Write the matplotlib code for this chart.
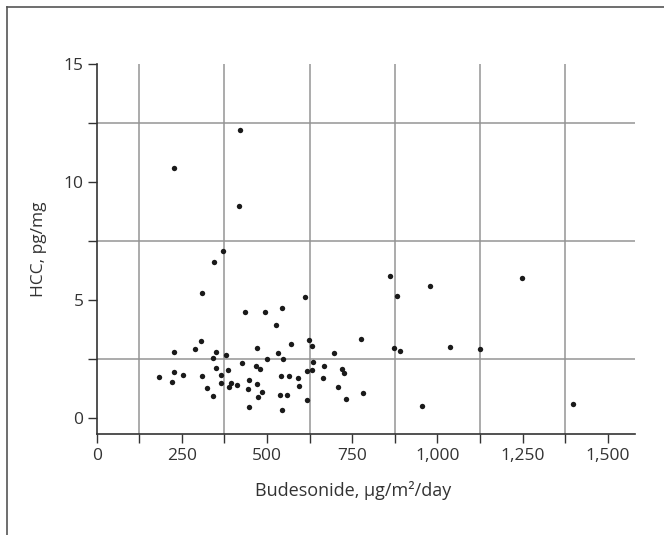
import matplotlib
matplotlib.use("Agg")
import matplotlib.pyplot as plt
from matplotlib.lines import Line2D
from matplotlib.ticker import FixedLocator, FuncFormatter

budesonide = [420, 227, 418, 370, 343, 308, 611, 860, 881, 435, 494, 544, 526, 307,
              226, 288, 350, 341, 379, 470, 571, 623, 633, 531, 501, 546, 697, 775,
              874, 890, 426, 634, 351, 384, 467, 480, 667, 719, 727, 616, 632, 183,
              228, 254, 308, 222, 365, 365, 325, 393, 389, 411, 448, 445, 470, 486,
              474, 341, 447, 541, 565, 591, 594, 538, 560, 617, 544, 663, 709, 732,
              781, 978, 1249, 1037, 1124, 955, 1397]
hcc = [12.2, 10.6, 9.0, 7.08, 6.62, 5.30, 5.13, 6.0, 5.15, 4.50, 4.48, 4.64, 3.93, 3.24,
       2.79, 2.91, 2.79, 2.55, 2.65, 2.96, 3.15, 3.28, 3.05, 2.76, 2.50, 2.48, 2.76, 3.35,
       2.97, 2.82, 2.31, 2.36, 2.11, 2.02, 2.21, 2.08, 2.19, 2.08, 1.90, 1.98, 2.01, 1.73,
       1.94, 1.81, 1.78, 1.53, 1.80, 1.46, 1.27, 1.48, 1.29, 1.40, 1.60, 1.22, 1.44, 1.10,
       0.89, 0.93, 0.47, 1.77, 1.77, 1.70, 1.34, 0.98, 0.98, 0.76, 0.33, 1.68, 1.30, 0.81,
       1.05, 5.57, 5.92, 3.01, 2.91, 0.51, 0.57]

x_major = [0, 250, 500, 750, 1000, 1250, 1500]
x_minor = [125, 375, 625, 875, 1125, 1375]
y_major = [0, 5, 10, 15]
y_minor = [2.5, 7.5, 12.5]

plt.rcParams['font.family'] = ['Open Sans', 'DejaVu Sans']
txt = '#333333'
spine_c = '#333333'
grid_c = '#949494'

fig = plt.figure(figsize=(6.64, 5.35), dpi=100)
ax = fig.add_axes([0.1456, 0.1882, 0.9563 - 0.1456, 0.8804 - 0.1882])

ax.scatter(budesonide, hcc, s=15, color='#1a1a1a', zorder=3, linewidths=0)

ax.set_xlim(0, 1580)
ax.set_ylim(-0.7, 15)

ax.xaxis.set_major_locator(FixedLocator(x_major))
ax.xaxis.set_minor_locator(FixedLocator(x_minor))
ax.yaxis.set_major_locator(FixedLocator(y_major))
ax.yaxis.set_minor_locator(FixedLocator(y_minor))
ax.xaxis.set_major_formatter(FuncFormatter(lambda v, p: f"{int(v):,}"))

ax.grid(False)
ax.grid(True, which='minor', axis='both', color=grid_c, linewidth=1.1, zorder=1)

for s in ['top', 'right']:
    ax.spines[s].set_visible(False)
for s in ['left', 'bottom']:
    ax.spines[s].set_color(spine_c)
    ax.spines[s].set_linewidth(1.2)
ax.spines['left'].set_bounds(-0.7, 15)
ax.spines['bottom'].set_bounds(0, 1580)

ax.tick_params(which='both', direction='out', length=6.5, width=1.0, color=spine_c,
               labelsize=12.5, labelcolor=txt, pad=3)

ax.set_xlabel('Budesonide, µg/m²/day', fontsize=13, color=txt)
ax.xaxis.set_label_coords(0.476, -0.125)
ax.set_ylabel('HCC, pg/mg', fontsize=12.5, color=txt)
ax.yaxis.set_label_coords(-0.092, 0.5)

fig.add_artist(Line2D([7/664, 7/664], [0, 1 - 7/535], color='#555555', linewidth=1.2,
                      transform=fig.transFigure))
fig.add_artist(Line2D([7/664, 1], [1 - 7/535, 1 - 7/535], color='#555555', linewidth=1.2,
                      transform=fig.transFigure))

fig.savefig('out.png', dpi=100)
